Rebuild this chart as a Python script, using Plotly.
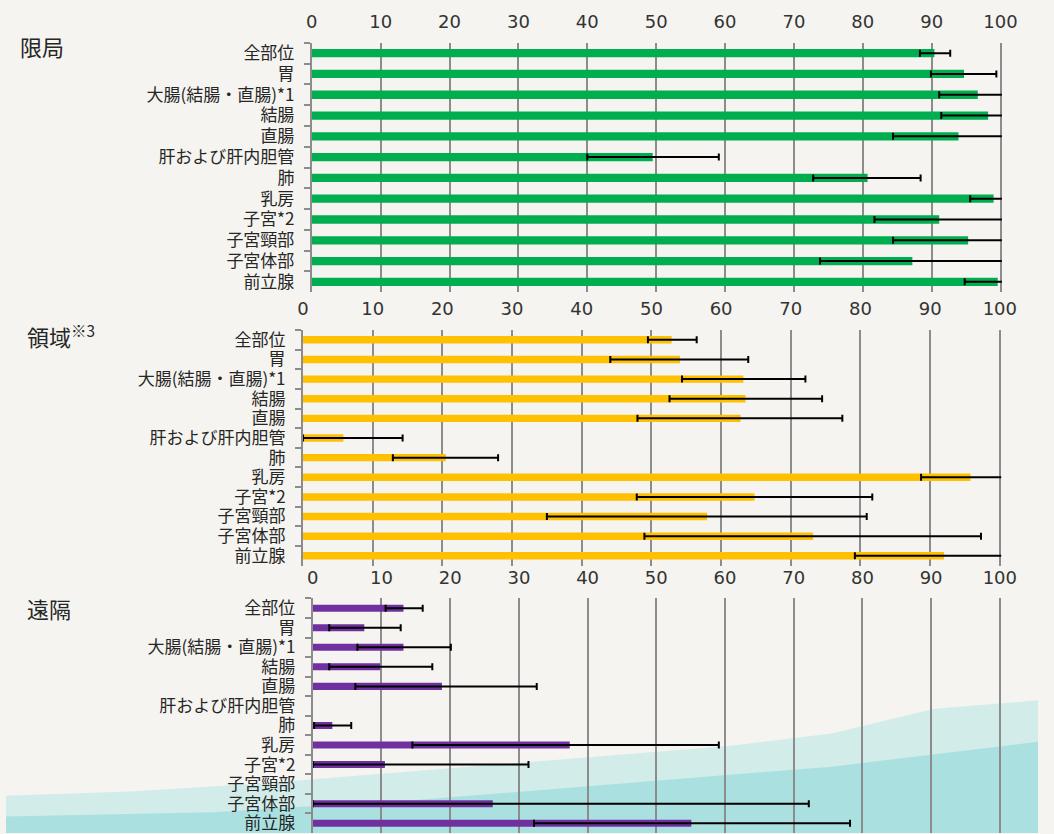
import plotly.graph_objects as go

categories = ["全部位", "胃", "大腸(結腸・直腸)*1", "結腸", "直腸", "肝および肝内胆管",
              "肺", "乳房", "子宮*2", "子宮頸部", "子宮体部", "前立腺"]
x_ticks = [0, 10, 20, 30, 40, 50, 60, 70, 80, 90, 100]

local_val = [90.4, 94.7, 96.7, 98.2, 93.9, 49.5, 80.7, 99.0, 91.1, 95.3, 87.2, 99.6]
local_low = [88.3, 89.9, 91.1, 91.4, 84.4, 40.0, 72.8, 95.6, 81.7, 84.4, 73.8, 94.8]
local_high = [92.7, 99.4, 101, 101, 101, 59.1, 88.4, 101, 101, 101, 101, 101]

regional_val = [52.9, 54.1, 63.2, 63.5, 62.8, 5.8, 20.5, 95.8, 64.8, 58.0, 73.2, 92.0]
regional_low = [49.5, 44.1, 54.4, 52.6, 48.0, 0.0, 12.9, 88.7, 47.9, 35.0, 49.0, 79.2]
regional_high = [56.5, 63.9, 72.1, 74.5, 77.4, 14.3, 28.0, 101, 81.7, 80.9, 97.3, 101]

distant_val = [13.2, 7.5, 13.2, 9.8, 18.8, None, 2.85, 37.4, 10.5, None, 26.2, 55.1]
distant_low = [10.6, 2.4, 6.5, 2.4, 6.2, None, 0.2, 14.5, 0.0, None, 0.0, 32.2]
distant_high = [16.0, 12.8, 20.1, 17.4, 32.6, None, 5.6, 59.1, 31.4, None, 72.2, 78.2]

panel_titles = ["限局", "領域<sup>※3</sup>", "遠隔"]
colors = ["#00AE4F", "#FFC000", "#7030A0"]

W, H = 1054, 834


def px_x(p):
    return p / W


def px_y(p):
    return 1 - p / H


def err(vals, lows, highs):
    plus, minus = [], []
    for v, lo, hi in zip(vals, lows, highs):
        if v is None:
            plus.append(None)
            minus.append(None)
        else:
            plus.append(hi - v)
            minus.append(v - lo)
    return plus, minus


fig = go.Figure()

panels = [
    (local_val, local_low, local_high, 0.40, (312.3, 1015.7), (39, 290)),
    (regional_val, regional_low, regional_high, 0.38, (303.3, 1015.0), (328, 565)),
    (distant_val, distant_low, distant_high, 0.36, (313.3, 1015.0), (598, 834)),
]

layout = {}
for i, (vals, lows, highs, bw, (x0, x1), (y0, y1)) in enumerate(panels):
    n = "" if i == 0 else str(i + 1)
    plus, minus = err(vals, lows, highs)
    fig.add_trace(go.Bar(
        x=vals, y=categories, orientation="h",
        marker=dict(color=colors[i], line=dict(width=0)),
        width=bw,
        error_x=dict(type="data", symmetric=False, array=plus, arrayminus=minus,
                     color="#000000", thickness=2, width=3.5),
        xaxis="x" + n, yaxis="y" + n, showlegend=False, hoverinfo="x+y",
    ))
    xrng_end = 100.2
    d_end = x0 + (x1 - x0) * xrng_end / 100
    layout["xaxis" + n] = dict(
        domain=[px_x(x0), min(px_x(d_end), 1.0)],
        range=[0, xrng_end], side="top", anchor="y" + n,
        tickmode="array", tickvals=x_ticks, ticktext=[str(t) for t in x_ticks],
        showgrid=True, gridcolor="#8c8c8c", gridwidth=2,
        zeroline=False, showline=False, ticks="",
        tickfont=dict(family="DejaVu Sans", size=18, color="#333333"),
        ticklabelstandoff=10, fixedrange=True,
    )
    layout["yaxis" + n] = dict(
        domain=[max(px_y(y1), 0.0), px_y(y0)],
        anchor="x" + n, type="category",
        categoryorder="array", categoryarray=categories,
        tickmode="array", tickvals=categories, ticktext=categories,
        autorange="reversed",
        showline=True, linecolor="#8c8c8c", linewidth=2,
        ticks="outside", ticklen=6, tickwidth=2, tickcolor="#8c8c8c",
        tickson="boundaries", showgrid=False, zeroline=False,
        tickfont=dict(family="Noto Sans CJK JP", size=17, color="#262626"),
        ticklabelstandoff=12, fixedrange=True,
    )

title_pos = [(12, 42), (19, 333), (19, 608)]
annotations = []
for t, (ax, ay) in zip(panel_titles, title_pos):
    annotations.append(dict(
        text=t, x=px_x(ax), y=px_y(ay), xref="paper", yref="paper",
        xanchor="left", yanchor="middle", showarrow=False,
        font=dict(family="Noto Sans CJK JP", size=22, color="#262626"),
    ))

shapes = [
    dict(type="path", xref="paper", yref="paper", layer="below", line=dict(width=0),
         fillcolor="rgba(120,214,214,0.28)",
         path="M 0,0 L 0,0.045 L 0.12,0.05 L 0.25,0.06 L 0.4,0.075 L 0.55,0.09 L 0.7,0.105 "
              "L 0.8,0.12 L 0.9,0.15 L 1,0.16 L 1,0 Z"),
    dict(type="path", xref="paper", yref="paper", layer="below", line=dict(width=0),
         fillcolor="rgba(80,200,205,0.30)",
         path="M 0,0 L 0,0.02 L 0.2,0.025 L 0.4,0.04 L 0.6,0.06 L 0.8,0.08 L 1,0.11 L 1,0 Z"),
]

fig.update_layout(
    width=W, height=H,
    margin=dict(l=0, r=0, t=0, b=0),
    paper_bgcolor="#f5f4f0", plot_bgcolor="rgba(0,0,0,0)",
    bargap=0.6, annotations=annotations, shapes=shapes,
    **layout,
)

fig.write_html("out.html")
